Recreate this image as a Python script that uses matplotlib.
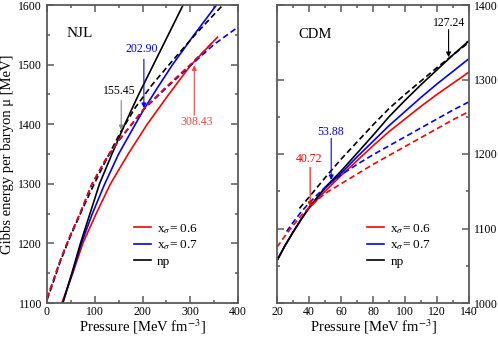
import matplotlib
matplotlib.use("Agg")
import matplotlib.pyplot as plt
from matplotlib.ticker import MultipleLocator

plt.rcParams['font.family'] = ['Liberation Serif', 'DejaVu Serif']
plt.rcParams['mathtext.fontset'] = 'stix'

# ---- NJL panel data (pressure in MeV fm^-3, mu in MeV) ----
njl_p_06 = [31, 54, 75, 103, 133, 170, 210, 255, 300, 357]
njl_mu_06 = [1100, 1150, 1200, 1250, 1300, 1350, 1400, 1450, 1498, 1546]
njl_p_07 = [33, 53, 72, 95, 121, 150, 185, 203, 232, 263, 308, 355]
njl_mu_07 = [1100, 1150, 1200, 1250, 1300, 1350, 1400, 1425, 1462, 1500, 1550, 1600]
njl_p_np = [33, 52, 70, 90, 110, 136, 163, 192, 223, 254, 285]
njl_mu_np = [1100, 1150, 1200, 1250, 1300, 1350, 1400, 1450, 1500, 1550, 1600]

njl_pd_06 = [0, 12, 28, 48, 70, 94, 122, 150, 179, 203, 250, 300, 348]
njl_mud_06 = [1108, 1135, 1172, 1212, 1252, 1300, 1340, 1373, 1402, 1426, 1463, 1500, 1538]
njl_pd_07 = [0, 12, 28, 48, 70, 94, 122, 150, 179, 203, 250, 300, 350, 400]
njl_mud_07 = [1108, 1135, 1172, 1212, 1252, 1299, 1339, 1372, 1401, 1425, 1461, 1498, 1534, 1563]
njl_pd_np = [0, 12, 28, 48, 70, 96, 125, 155, 185, 220, 258, 310, 366]
njl_mud_np = [1105, 1132, 1170, 1210, 1250, 1295, 1342, 1388, 1428, 1466, 1502, 1550, 1598]

# ---- CDM panel data ----
cdm_p = [20, 25, 30, 35, 40, 50, 60, 70, 80, 90, 100, 110, 120, 130, 140]
cdm_mu_06 = [1057, 1077, 1095, 1112, 1127, 1150, 1171, 1191, 1211, 1230, 1247, 1264, 1280, 1295, 1310]
cdm_mu_07 = [1057, 1077, 1095, 1112, 1128, 1154, 1174, 1196, 1217, 1238, 1257, 1276, 1294, 1311, 1328]
cdm_mu_np = [1057, 1077, 1095, 1112, 1128, 1155, 1177, 1201, 1225, 1250, 1272, 1293, 1313, 1333, 1352]

cdm_pd_06 = [20, 25, 30, 35, 40, 45, 50, 60, 70, 80, 90, 100, 110, 120, 130, 140]
cdm_mud_06 = [1075, 1090, 1104, 1117, 1128, 1138, 1147, 1160, 1173, 1186, 1198, 1210, 1222, 1234, 1246, 1257]
cdm_pd_07 = [26, 30, 35, 40, 45, 50, 55, 60, 70, 80, 90, 100, 110, 120, 130, 140]
cdm_mud_07 = [1096, 1108, 1122, 1134, 1145, 1155, 1164, 1172, 1186, 1199, 1211, 1223, 1235, 1247, 1259, 1270]
cdm_pd_np = [34, 40, 50, 60, 70, 80, 90, 100, 110, 120, 130, 140]
cdm_mud_np = [1127, 1142, 1168, 1193, 1216, 1239, 1261, 1280, 1298, 1316, 1333, 1350]

# crossing points: (pressure label, arrow tail mu, arrow tip mu, text P, text mu)
njl_cross = [(155.45, 1440, 1390, 152, 1456), (202.90, 1509, 1427, 198, 1526), (308.43, 1415, 1499, 314, 1404)]
njl_cross_col = ['#888888', 'blue', '#ff4040']
cdm_cross = [(127.24, 1367, 1330, 127.8, 1376), (53.88, 1221, 1165, 53.3, 1229), (40.72, 1182, 1129, 40, 1193)]
cdm_cross_col = ['black', 'blue', 'red']

labels = [r'x$_{\sigma}$= 0.6', r'x$_{\sigma}$= 0.7', 'np']
frame = '#5a5a5a'
dash = (0, (3.5, 2.0))

fig = plt.figure(figsize=(4.98, 3.39), dpi=100)
ax1 = fig.add_axes([47 / 498, 36 / 339, 191 / 498, 298 / 339])
ax2 = fig.add_axes([277 / 498, 36 / 339, 192 / 498, 298 / 339])


def style(ax):
    for s in ax.spines.values():
        s.set_color(frame)
        s.set_linewidth(1.3)
    ax.tick_params(which='both', direction='in', top=True, right=True, left=True,
                   color=frame, width=1.1, labelsize=8.5, pad=3.5)
    ax.tick_params(axis='x', which='both', pad=2.5)
    ax.tick_params(which='major', length=5)
    ax.tick_params(which='minor', length=2.5)
    ax.set_xlabel('Pressure [MeV fm$^{-3}$]', fontsize=10.5, labelpad=-0.5)


def arrows(ax, cross, cols):
    for (p, tail, tip, tx, ty), c in zip(cross, cols):
        ax.annotate('', xy=(p, tip), xytext=(p, tail),
                    arrowprops=dict(arrowstyle='-|>', color=c, lw=0.8, mutation_scale=7,
                                    shrinkA=0, shrinkB=0))
        ax.text(tx, ty, f'{p:.2f}', color=c if c != '#888888' else 'black',
                fontsize=8.5, ha='center', va='center')


# NJL
lines = []
for p, mu, c in [(njl_p_06, njl_mu_06, 'red'), (njl_p_07, njl_mu_07, 'blue'), (njl_p_np, njl_mu_np, 'black')]:
    lines.append(ax1.plot(p, mu, color=c, lw=1.2)[0])
for p, mu, c in [(njl_pd_np, njl_mud_np, 'black'), (njl_pd_07, njl_mud_07, 'blue'), (njl_pd_06, njl_mud_06, 'red')]:
    ax1.plot(p, mu, color=c, lw=1.2, linestyle=dash)
arrows(ax1, njl_cross, njl_cross_col)
ax1.set_xlim(0, 400)
ax1.set_ylim(1100, 1600)
ax1.xaxis.set_major_locator(MultipleLocator(100))
ax1.xaxis.set_minor_locator(MultipleLocator(50))
ax1.yaxis.set_major_locator(MultipleLocator(100))
ax1.yaxis.set_minor_locator(MultipleLocator(50))
style(ax1)
ax1.set_ylabel('Gibbs energy per baryon μ [MeV]', fontsize=10.5, labelpad=3)
ax1.text(0.17, 0.905, 'NJL', transform=ax1.transAxes, fontsize=11, ha='center', va='center')
ax1.legend(lines, labels, loc='upper left', bbox_to_anchor=(0.455, 0.272), frameon=False,
           fontsize=9.5, handlelength=1.3, handletextpad=0.45, labelspacing=0.22,
           borderpad=0, borderaxespad=0)

# CDM
lines = []
for mu, c in [(cdm_mu_06, 'red'), (cdm_mu_07, 'blue'), (cdm_mu_np, 'black')]:
    lines.append(ax2.plot(cdm_p, mu, color=c, lw=1.2)[0])
for p, mu, c in [(cdm_pd_np, cdm_mud_np, 'black'), (cdm_pd_07, cdm_mud_07, 'blue'), (cdm_pd_06, cdm_mud_06, 'red')]:
    ax2.plot(p, mu, color=c, lw=1.2, linestyle=dash)
arrows(ax2, cdm_cross, cdm_cross_col)
ax2.set_xlim(20, 140)
ax2.set_ylim(1000, 1400)
ax2.xaxis.set_major_locator(MultipleLocator(20))
ax2.xaxis.set_minor_locator(MultipleLocator(10))
ax2.yaxis.set_major_locator(MultipleLocator(100))
ax2.yaxis.set_minor_locator(MultipleLocator(50))
style(ax2)
ax2.tick_params(which='both', labelleft=False, labelright=True)
ax2.text(0.2, 0.9, 'CDM', transform=ax2.transAxes, fontsize=10.5, ha='center', va='center')
ax2.legend(lines, labels, loc='upper left', bbox_to_anchor=(0.47, 0.272), frameon=False,
           fontsize=9.5, handlelength=1.3, handletextpad=0.45, labelspacing=0.22,
           borderpad=0, borderaxespad=0)

fig.savefig('out.png', dpi=100)
